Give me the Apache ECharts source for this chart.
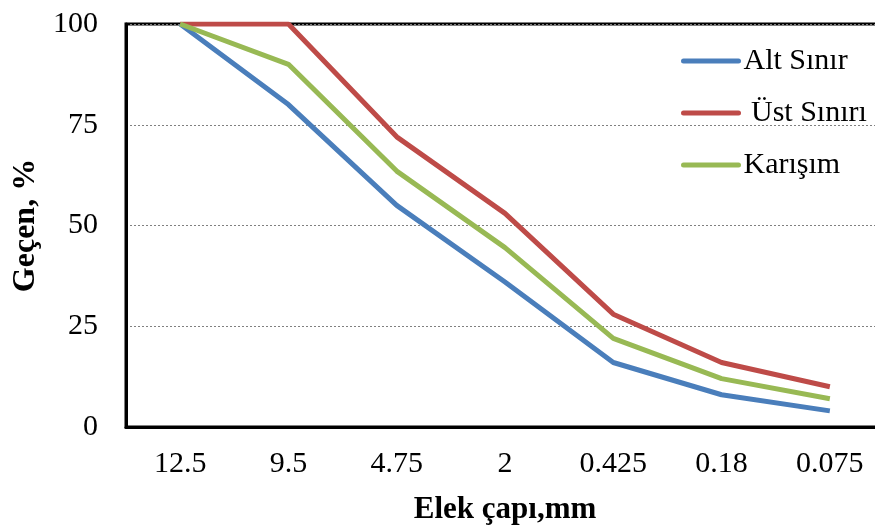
<!DOCTYPE html>
<html>
<head>
<meta charset="utf-8">
<script src="https://cdn.jsdelivr.net/npm/echarts@6/dist/echarts.min.js"></script>
<style>html,body{margin:0;padding:0;background:#fff;}#c{width:875px;height:529px;}</style>
</head>
<body>
<div id="c"></div>
<script>
var categories = ['12.5', '9.5', '4.75', '2', '0.425', '0.18', '0.075'];
var altSinir = [100, 80, 55, 36, 16, 8, 4];
var ustSinir = [100, 100, 72, 53, 28, 16, 10];
var karisim = [100, 90, 63.5, 44.5, 22, 12, 7];
var yTicks = [0, 25, 50, 75, 100];

var font = 'Liberation Serif, Times New Roman, serif';
var chart = echarts.init(document.getElementById('c'), null, {renderer: 'canvas'});
chart.setOption({
  animation: false,
  backgroundColor: '#fff',
  grid: {left: 126, top: 24, height: 403, width: 758, outerBoundsMode: 'none', containLabel: false,
         show: true, borderColor: '#000', borderWidth: 3, backgroundColor: 'transparent'},
  legend: {
    orient: 'vertical', left: 681, top: 46, padding: 0,
    itemWidth: 55, itemHeight: 26, itemGap: 22,
    itemStyle: {opacity: 0},
    lineStyle: {width: 5, cap: 'round'},
    textStyle: {fontFamily: font, fontSize: 30, color: '#000', lineHeight: 26},
    data: [
      {name: 'Alt Sınır'},
      {name: ' Üst Sınırı'},
      {name: 'Karışım'}
    ]
  },
  xAxis: {
    type: 'category', data: categories, boundaryGap: true,
    name: 'Elek çapı,mm', nameLocation: 'middle', nameGap: 67,
    nameTextStyle: {fontFamily: font, fontSize: 31, fontWeight: 'bold', color: '#000'},
    axisLine: {lineStyle: {color: '#000', width: 3}},
    axisTick: {show: false},
    axisLabel: {fontFamily: font, fontSize: 30, color: '#000', margin: 22}
  },
  yAxis: {
    type: 'value', min: yTicks[0], max: yTicks[yTicks.length - 1], interval: 25,
    name: 'Geçen, %', nameLocation: 'middle', nameGap: 84,
    nameTextStyle: {fontFamily: font, fontSize: 32, fontWeight: 'bold', color: '#000'},
    axisLine: {show: true, lineStyle: {color: '#000', width: 3}},
    axisTick: {show: false},
    axisLabel: {fontFamily: font, fontSize: 30, color: '#000', margin: 28},
    splitLine: {show: true, lineStyle: {color: '#808080', width: 1, type: [2, 2]}}
  },
  series: [
    {name: 'Alt Sınır', type: 'line', data: altSinir, symbol: 'none', lineStyle: {width: 5, color: '#4A7EBB'}, itemStyle: {color: '#4A7EBB'}},
    {name: ' Üst Sınırı', type: 'line', data: ustSinir, symbol: 'none', lineStyle: {width: 5, color: '#BE4B48'}, itemStyle: {color: '#BE4B48'}},
    {name: 'Karışım', type: 'line', data: karisim, symbol: 'none', lineStyle: {width: 5, color: '#98B954'}, itemStyle: {color: '#98B954'}}
  ]
});
</script>
</body>
</html>
